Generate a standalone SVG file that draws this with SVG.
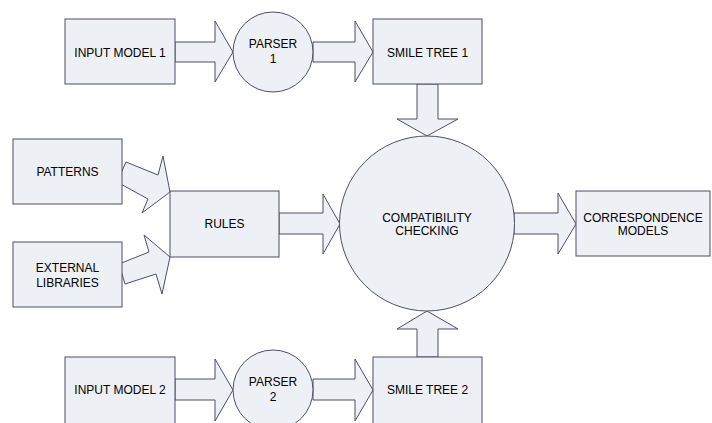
<svg xmlns="http://www.w3.org/2000/svg" width="712" height="423" viewBox="0 0 712 423">
<style>
.s{fill:#EDF0F5;stroke:#4E4F63;stroke-width:1}
.t{font-family:"Liberation Sans",Arial,sans-serif;font-size:12px;fill:#000;text-anchor:middle}
</style>
<rect width="712" height="423" fill="#fff"/>
<g id="connectors">
<polygon class="s" points="175,42 215,42 215,21 233,52 215,82 215,62 175,62"/>
<polygon class="s" points="313,42 355,42 355,21 373,52 355,82 355,62 313,62"/>
<polygon class="s" points="175,379 215,379 215,359 233,390 215,421 215,400 175,400"/>
<polygon class="s" points="313,379 355,379 355,359 373,390 355,421 355,400 313,400"/>
<polygon class="s" points="417,84 438,84 438,119 458,119 427,136 397,119 417,119"/>
<polygon class="s" points="417,357 438,357 438,329 458,329 427,311 397,329 417,329"/>
<polygon class="s" points="279,213 323,213 323,194 340,224 323,254 323,234 279,234"/>
<polygon class="s" points="514,213 558,213 558,193 576,224 558,254 558,234 514,234"/>
<polygon class="s" points="126,162 158,175 163,156 170,192 142,213 148,199 117,182"/>
<polygon class="s" points="119,264 149,252 144,235 170,257 162,294 156,274 125,284"/>
</g>
<g id="input1"><rect class="s" x="65" y="19" width="110" height="65"/><text class="t" x="120" y="56.5">INPUT MODEL 1</text></g>
<g id="parser1"><circle class="s" cx="273" cy="52" r="40"/><text class="t" x="273" y="47.5">PARSER</text><text class="t" x="273" y="63">1</text></g>
<g id="smile1"><rect class="s" x="373" y="19" width="109" height="65"/><text class="t" x="427.5" y="56.5">SMILE TREE 1</text></g>
<g id="patterns"><rect class="s" x="13" y="139" width="109" height="65"/><text class="t" x="67.5" y="176">PATTERNS</text></g>
<g id="extlib"><rect class="s" x="13" y="242" width="109" height="65"/><text class="t" x="67.5" y="271.5">EXTERNAL</text><text class="t" x="67.5" y="286.5">LIBRARIES</text></g>
<g id="rules"><rect class="s" x="170" y="191" width="109" height="66"/><text class="t" x="224.5" y="228">RULES</text></g>
<g id="compat"><circle class="s" cx="427" cy="223.5" r="87.5"/><text class="t" x="427" y="221.5">COMPATIBILITY</text><text class="t" x="427" y="234.5">CHECKING</text></g>
<g id="corr"><rect class="s" x="576" y="191" width="134" height="65"/><text class="t" x="643" y="221.5">CORRESPONDENCE</text><text class="t" x="643" y="234.5">MODELS</text></g>
<g id="input2"><rect class="s" x="65" y="357" width="110" height="70"/><text class="t" x="120" y="393.5">INPUT MODEL 2</text></g>
<g id="parser2"><circle class="s" cx="273" cy="390" r="40"/><text class="t" x="273" y="386">PARSER</text><text class="t" x="273" y="401">2</text></g>
<g id="smile2"><rect class="s" x="373" y="357" width="109" height="70"/><text class="t" x="427.5" y="393.5">SMILE TREE 2</text></g>
</svg>
